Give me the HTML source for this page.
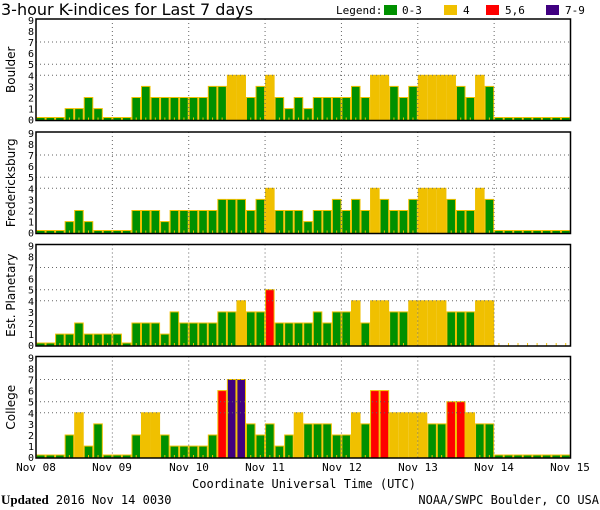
<!DOCTYPE html>
<html><head><meta charset="utf-8"><style>
html,body{margin:0;padding:0;background:#fff;}
svg{display:block;font-family:"DejaVu Sans Mono","Liberation Mono",monospace;}
</style></head><body>
<svg id="s" width="600" height="510" xmlns="http://www.w3.org/2000/svg">
<text x="1" y="15" font-size="16" font-family="DejaVu Sans, Liberation Sans, sans-serif">3-hour K-indices for Last 7 days</text>
<text x="336" y="14" font-size="11">Legend:</text>
<rect x="384" y="5" width="13" height="10" fill="#009000"/><text x="402" y="14" font-size="11">0-3</text>
<rect x="444" y="5" width="13" height="10" fill="#f0c000"/><text x="463" y="14" font-size="11">4</text>
<rect x="486" y="5" width="13" height="10" fill="#ff0000"/><text x="505" y="14" font-size="11">5,6</text>
<rect x="546" y="5" width="13" height="10" fill="#400080"/><text x="565" y="14" font-size="11">7-9</text>
<g font-size="11" text-anchor="middle">
<text x="36" y="471">Nov 08</text><text x="112" y="471">Nov 09</text><text x="189" y="471">Nov 10</text><text x="265" y="471">Nov 11</text><text x="342" y="471">Nov 12</text><text x="418" y="471">Nov 13</text><text x="494" y="471">Nov 14</text><text x="570" y="471">Nov 15</text>
<text x="304" y="488" font-size="12">Coordinate Universal Time (UTC)</text>
</g>
<text x="1" y="504" font-size="12"><tspan font-weight="bold" font-family="Liberation Serif, serif" font-size="13">Updated</tspan> 2016 Nov 14 0030</text>
<text x="599" y="504" font-size="12" text-anchor="end">NOAA/SWPC Boulder, CO USA</text>
<g id="g"></g>
</svg>
<script>
var D=[
["Boulder",19,[0,0,0,1,1,2,1,0,0,0,2,3,2,2,2,2,2,2,3,3,4,4,2,3,4,2,1,2,1,2,2,2,2,3,2,4,4,3,2,3,4,4,4,4,3,2,4,3,0,0,0,0,0,0,0,0]],
["Fredericksburg",132,[0,0,0,1,2,1,0,0,0,0,2,2,2,1,2,2,2,2,2,3,3,3,2,3,4,2,2,2,1,2,2,3,2,3,2,4,3,2,2,3,4,4,4,3,2,2,4,3,0,0,0,0,0,0,0,0]],
["Est. Planetary",244.5,[0,0,1,1,2,1,1,1,1,0,2,2,2,1,3,2,2,2,2,3,3,4,3,3,5,2,2,2,2,3,2,3,3,4,2,4,4,3,3,4,4,4,4,3,3,3,4,4,-1,-1,-1,-1,-1,-1,-1,-1]],
["College",356.5,[0,0,0,2,4,1,3,0,0,0,2,4,4,2,1,1,1,1,2,6,7,7,3,2,3,1,2,4,3,3,3,2,2,4,3,6,6,4,4,4,4,3,3,5,5,4,3,3,0,0,0,0,0,0,0,0]]];
var h='',X0=36,X1=570.5,W=(X1-X0)/56,H=101.5,U=11.1;
D.forEach(function(p){var t=p[1],b=t+H;
 function Y(v){return b-0.8-v*U;}
 // bars
 p[2].forEach(function(v,i){var x=X0+i*W;
  if(v<0){h+='<line x1="'+(x+W/2)+'" y1="'+(b-3)+'" x2="'+(x+W/2)+'" y2="'+b+'" stroke="#f0c000"/>';return;}
  var c=v<=3?'#009000':v==4?'#f0c000':v<=6?'#ff0000':'#400080';
  var y=v==0?b-3:Y(v);
  h+='<rect x="'+(x+0.5)+'" y="'+y+'" width="'+(W-1)+'" height="'+(b-y)+'" fill="'+c+'" stroke="#f0c000" stroke-width="1"/>';
  if(v>0&&v<=3)h+='<line x1="'+(x+W/2)+'" y1="'+(b-3)+'" x2="'+(x+W/2)+'" y2="'+b+'" stroke="#f0c000"/>';
 });
 // grid
 [4,5,7].forEach(function(v){h+='<line x1="'+X0+'" x2="'+X1+'" y1="'+Y(v)+'" y2="'+Y(v)+'" stroke="#666" stroke-dasharray="1,3"/>';});
 for(var d=1;d<7;d++){var x=X0+d*8*W;h+='<line x1="'+x+'" x2="'+x+'" y1="'+t+'" y2="'+b+'" stroke="#666" stroke-dasharray="1,3"/>';}
 h+='<rect x="'+X0+'" y="'+t+'" width="'+(X1-X0)+'" height="'+H+'" fill="none" stroke="#000" stroke-width="1.5"/>';
 for(var v=0;v<=9;v++)h+='<text x="34" y="'+(Y(v)+4)+'" font-size="10" text-anchor="end">'+v+'</text>';
 h+='<text transform="translate(15,'+(t+H/2)+') rotate(-90)" font-size="12" text-anchor="middle" font-family="DejaVu Sans, Liberation Sans, sans-serif">'+p[0]+'</text>';
});
document.getElementById('g').innerHTML=h;
</script>
</body></html>
